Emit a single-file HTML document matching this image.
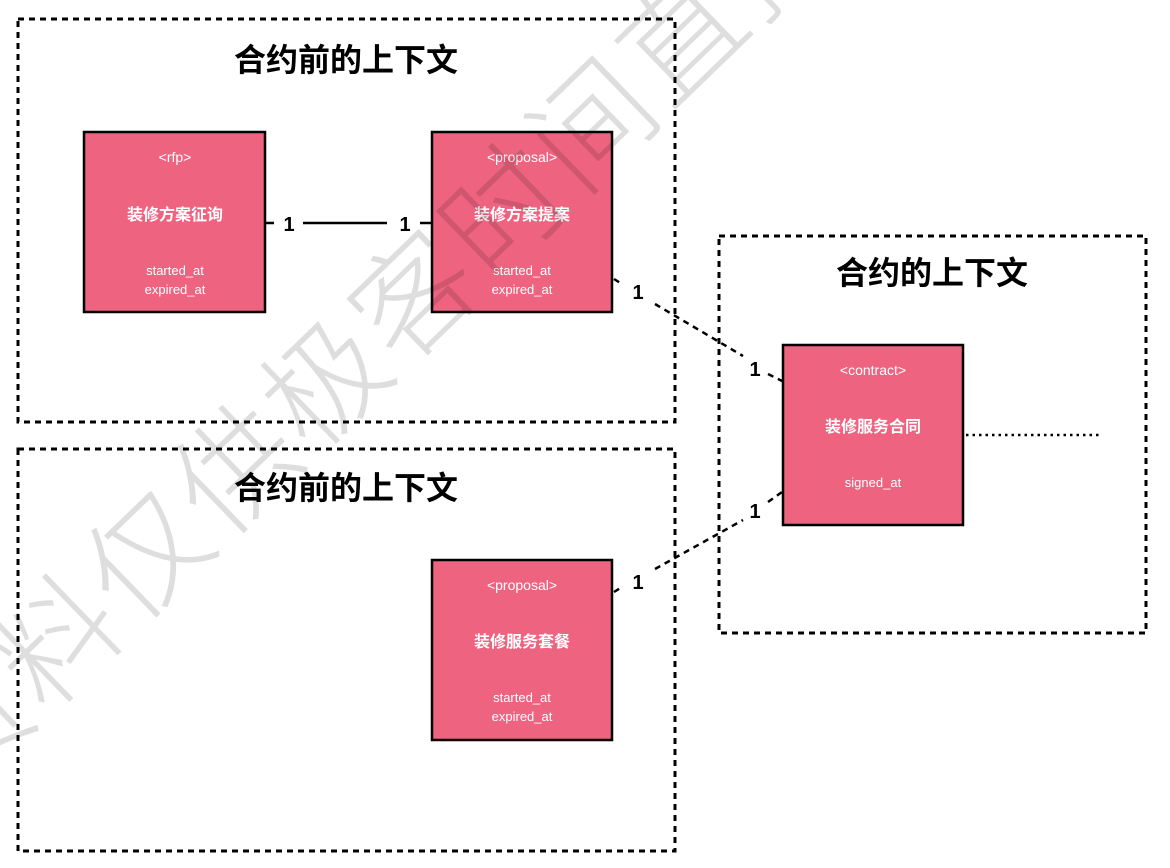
<!DOCTYPE html>
<html><head><meta charset="utf-8"><style>
html,body{margin:0;padding:0;background:#fff;}
svg{display:block}
</style></head><body>
<svg width="1170" height="868" viewBox="0 0 1170 868" xmlns="http://www.w3.org/2000/svg" font-family="'Liberation Sans','Noto Sans CJK SC',sans-serif">
<g fill="none" stroke="#000" stroke-width="3" stroke-dasharray="6,5">
<rect x="18" y="19" width="657" height="403"/>
<rect x="18" y="449" width="657" height="402"/>
<rect x="719" y="236" width="427" height="397"/>
</g>
<g font-weight="bold" font-size="32" text-anchor="middle" font-family="'Noto Sans CJK SC',sans-serif">
<text x="346" y="71">合约前的上下文</text>
<text x="346" y="499">合约前的上下文</text>
<text x="932" y="284">合约的上下文</text>
</g>
<g stroke="#000" stroke-width="2.5">
<line x1="266" y1="223" x2="274" y2="223"/>
<line x1="303" y1="223" x2="387" y2="223"/>
<line x1="420" y1="223" x2="431" y2="223"/>
<g stroke-dasharray="6,5" fill="none">
<line x1="614" y1="279" x2="622" y2="284"/>
<line x1="655" y1="304" x2="743" y2="356"/>
<line x1="768" y1="374" x2="782" y2="381"/>
<line x1="614" y1="592" x2="622" y2="587"/>
<line x1="655" y1="569" x2="743" y2="520"/>
<line x1="768" y1="502" x2="782" y2="492"/>
</g>
<line x1="966" y1="435" x2="1100" y2="435" stroke-dasharray="2.5,4"/>
</g>
<g font-weight="bold" font-size="20" text-anchor="middle">
<text x="289" y="231">1</text>
<text x="405" y="231">1</text>
<text x="638" y="299">1</text>
<text x="755" y="376">1</text>
<text x="755" y="518">1</text>
<text x="638" y="589">1</text>
</g>
<g fill="#ee6380" stroke="#000" stroke-width="2.5">
<rect x="84" y="132" width="181" height="180"/>
<rect x="432" y="132" width="180" height="180"/>
<rect x="432" y="560" width="180" height="180"/>
<rect x="783" y="345" width="180" height="180"/>
</g>
<g fill="#fff" text-anchor="middle" font-size="14">
<text x="175" y="162">&lt;rfp&gt;</text>
<text x="175" y="220" font-weight="bold" font-size="16" font-family="'Noto Sans CJK SC',sans-serif">装修方案征询</text>
<text x="175" y="275" font-size="13">started_at</text>
<text x="175" y="294" font-size="13">expired_at</text>
<text x="522" y="162">&lt;proposal&gt;</text>
<text x="522" y="220" font-weight="bold" font-size="16" font-family="'Noto Sans CJK SC',sans-serif">装修方案提案</text>
<text x="522" y="275" font-size="13">started_at</text>
<text x="522" y="294" font-size="13">expired_at</text>
<text x="522" y="590">&lt;proposal&gt;</text>
<text x="522" y="647" font-weight="bold" font-size="16" font-family="'Noto Sans CJK SC',sans-serif">装修服务套餐</text>
<text x="522" y="702" font-size="13">started_at</text>
<text x="522" y="721" font-size="13">expired_at</text>
<text x="873" y="375">&lt;contract&gt;</text>
<text x="873" y="432" font-weight="bold" font-size="16" font-family="'Noto Sans CJK SC',sans-serif">装修服务合同</text>
<text x="873" y="487" font-size="13">signed_at</text>
</g>
<text x="0" y="0" transform="translate(-45,800) rotate(-44)" font-family="'Noto Sans CJK SC',sans-serif" font-weight="300" font-size="120" letter-spacing="4" fill="rgba(0,0,0,0.13)">资料仅供极客时间直播</text>
</svg>
</body></html>
